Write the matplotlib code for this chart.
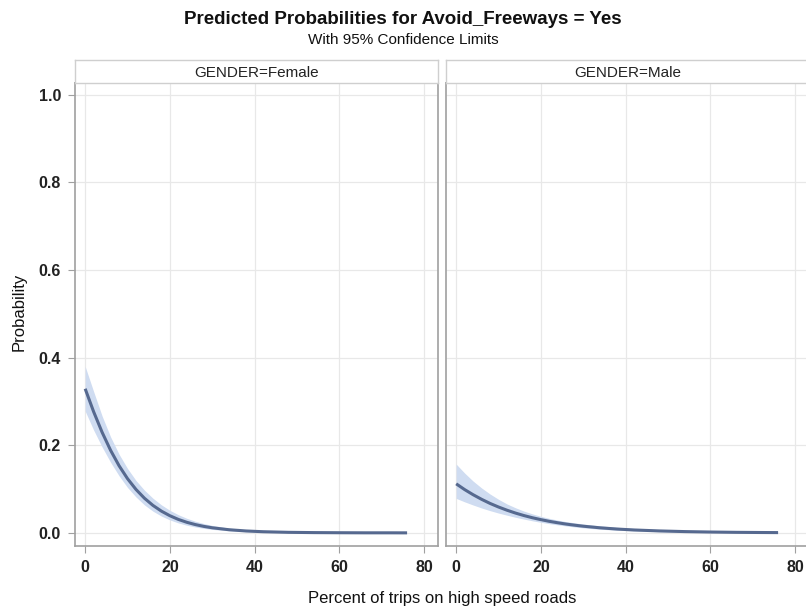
import matplotlib.pyplot as plt

plt.rcParams['font.family'] = ['Liberation Sans', 'DejaVu Sans']

# percent of trips on high speed roads
x_pts = [0, 2, 4, 6, 8, 10, 12, 14, 16, 18, 20, 22, 24, 26, 28, 30,
         34, 38, 42, 48, 54, 60, 66, 72, 76]

female_p = [0.329, 0.2765, 0.2296, 0.1885, 0.1533, 0.1237, 0.0991, 0.0790, 0.0627, 0.0496,
            0.0391, 0.0307, 0.0241, 0.0189, 0.0148, 0.0116, 0.0071, 0.0043, 0.0026, 0.0012,
            0.0006, 0.0003, 0.0001, 0.0001, 0.0000]
female_hi = [0.380, 0.3226, 0.2668, 0.2192, 0.1796, 0.1470, 0.1195, 0.0974, 0.0791, 0.0639,
             0.0515, 0.0414, 0.0332, 0.0266, 0.0213, 0.0170, 0.0108, 0.0069, 0.0044, 0.0022,
             0.0011, 0.0006, 0.0003, 0.0001, 0.0001]
female_lo = [0.278, 0.2347, 0.1961, 0.1611, 0.1303, 0.1036, 0.0819, 0.0638, 0.0495, 0.0383,
             0.0295, 0.0227, 0.0174, 0.0134, 0.0103, 0.0079, 0.0046, 0.0027, 0.0016, 0.0007,
             0.0003, 0.0001, 0.0000, 0.0000, 0.0000]

male_p = [0.112, 0.0988, 0.0871, 0.0766, 0.0672, 0.0590, 0.0517, 0.0452, 0.0395, 0.0345,
          0.0302, 0.0263, 0.0230, 0.0200, 0.0175, 0.0152, 0.0115, 0.0087, 0.0066, 0.0044,
          0.0029, 0.0019, 0.0012, 0.0008, 0.0006]
male_hi = [0.157, 0.1365, 0.1182, 0.1025, 0.0887, 0.0766, 0.0660, 0.0573, 0.0497, 0.0433,
           0.0377, 0.0331, 0.0290, 0.0256, 0.0228, 0.0202, 0.0160, 0.0127, 0.0100, 0.0072,
           0.0051, 0.0036, 0.0026, 0.0019, 0.0015]
male_lo = [0.0787, 0.0708, 0.0636, 0.0568, 0.0507, 0.0452, 0.0403, 0.0356, 0.0314, 0.0275,
           0.0241, 0.0209, 0.0182, 0.0157, 0.0134, 0.0114, 0.0083, 0.0060, 0.0044, 0.0027,
           0.0016, 0.0010, 0.0006, 0.0004, 0.0003]

panels = ['GENDER=Female', 'GENDER=Male']
x_ticks = [0, 20, 40, 60, 80]
y_ticks = [0.0, 0.2, 0.4, 0.6, 0.8, 1.0]

W, H = 806, 614
fig = plt.figure(figsize=(W / 100, H / 100), dpi=100)

line_col = '#56698f'
band_col = '#cfdcf1'
frame_col = '#a0a0a0'
grid_col = '#e8e8e8'

series = [(female_p, female_lo, female_hi), (male_p, male_lo, male_hi)]
lefts = [75, 446]
pw = 363
top, bottom = 83, 546
head_h = 23

for i, (name, (p, lo, hi)) in enumerate(zip(panels, series)):
    ax = fig.add_axes([lefts[i] / W, 1 - bottom / H, pw / W, (bottom - top) / H])
    ax.fill_between(x_pts, lo, hi, color=band_col, lw=0)
    ax.plot(x_pts, p, color=line_col, lw=2.2, solid_capstyle='butt')
    ax.set_xlim(-2.4, 83.3)
    ax.set_ylim(-0.03, 1.027)
    ax.set_xticks(x_ticks)
    ax.set_yticks(y_ticks)
    ax.set_yticklabels([f'{v:.1f}' for v in y_ticks])
    ax.grid(True, color=grid_col, lw=0.9)
    ax.set_axisbelow(True)
    for s in ax.spines.values():
        s.set_color(frame_col)
        s.set_linewidth(1.2)
    ax.tick_params(direction='out', length=5, color=frame_col, labelsize=11.5,
                   labelcolor='#222222', pad=5)
    for lab in ax.get_xticklabels() + ax.get_yticklabels():
        lab.set_fontweight('semibold')
    if i > 0:
        ax.tick_params(axis='y', left=False, labelleft=False)

    hx = fig.add_axes([lefts[i] / W, 1 - top / H, pw / W, head_h / H])
    hx.set_xticks([])
    hx.set_yticks([])
    for s in hx.spines.values():
        s.set_color('#cfcfcf')
        s.set_linewidth(1.0)
    hx.text(0.5, 0.45, name, ha='center', va='center', fontsize=11, color='#222222',
            transform=hx.transAxes)

fig.text(403 / W, 1 - 20 / H, 'Predicted Probabilities for Avoid_Freeways = Yes',
         ha='center', va='center', fontsize=13.5, fontweight='bold', color='#111111')
fig.text(403 / W, 1 - 40 / H, 'With 95% Confidence Limits',
         ha='center', va='center', fontsize=11, color='#111111')
fig.text(442 / W, 1 - 598 / H, 'Percent of trips on high speed roads',
         ha='center', va='center', fontsize=12, color='#111111')
fig.text(19 / W, 1 - 312 / H, 'Probability', rotation=90,
         ha='center', va='center', fontsize=12, color='#111111')

fig.savefig('out.png', dpi=100, facecolor='white')
